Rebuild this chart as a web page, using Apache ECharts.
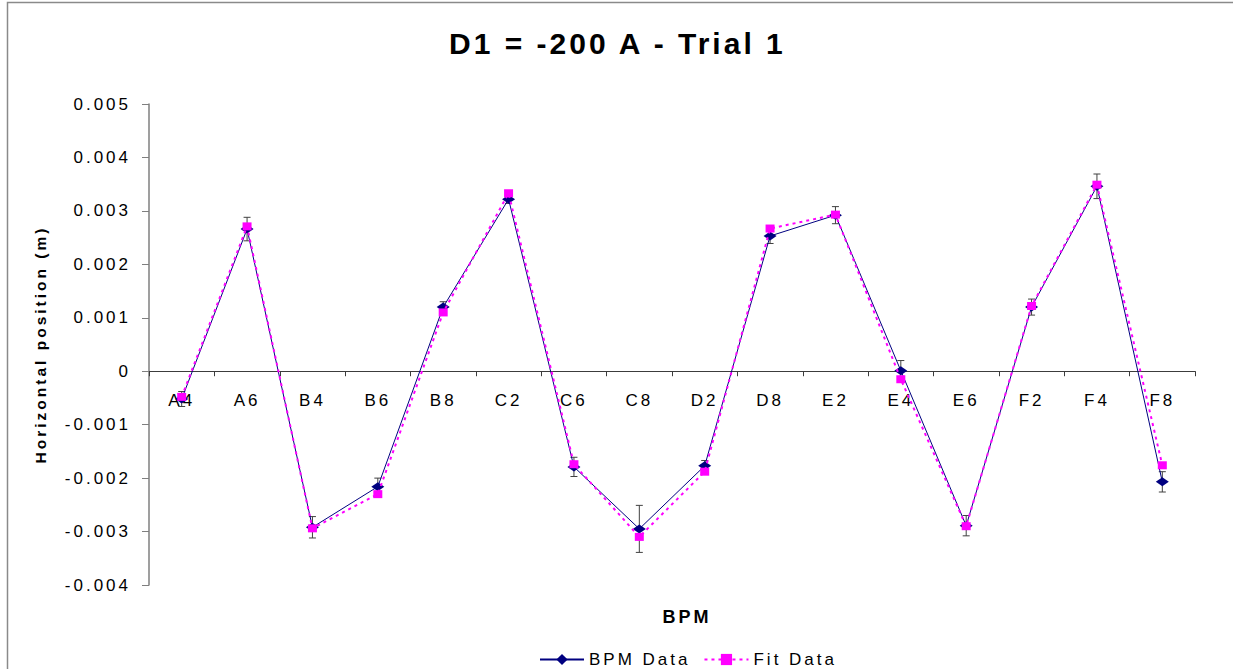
<!DOCTYPE html>
<html>
<head>
<meta charset="utf-8">
<script src="https://cdn.jsdelivr.net/npm/echarts@6/dist/echarts.min.js"></script>
<style>
  html, body { margin: 0; padding: 0; background: #ffffff; overflow: hidden; }
  #chart { width: 1233px; height: 669px; }
  /* wide, spaced lettering in the style of the spreadsheet chart */
  #chart text { letter-spacing: 3px; }
</style>
</head>
<body>
<div id="chart"></div>
<script>
// BPM names along the beam line
const categories = ['A4', 'A6', 'B4', 'B6', 'B8', 'C2', 'C6', 'C8', 'D2', 'D8', 'E2', 'E4', 'E6', 'F2', 'F4', 'F8'];

// measured horizontal position (m)
const bpmData = [-0.00052, 0.00266, -0.00292, -0.00216, 0.00120, 0.00322, -0.00179, -0.00295,
                 -0.00177, 0.00253, 0.00292, 0.00001, -0.00289, 0.00120, 0.00346, -0.00207];

// fitted horizontal position (m)
const fitData = [-0.00048, 0.00271, -0.00294, -0.00230, 0.00110, 0.00333, -0.00174, -0.00310,
                 -0.00188, 0.00267, 0.00293, -0.00015, -0.00290, 0.00122, 0.00349, -0.00176];

// +/- uncertainty of the measured positions (m)
const bpmError = [0.00014, 0.00022, 0.00020, 0.00016, 0.00010, 0.00008, 0.00018, 0.00044,
                  0.00010, 0.00014, 0.00016, 0.00019, 0.00019, 0.00015, 0.00023, 0.00019];

// value axis ticks
const yMin = -0.004;
const yMax = 0.005;
const yStep = 0.001;

const FONT = '"Liberation Sans", Arial, Helvetica, sans-serif';

const chart = echarts.init(document.getElementById('chart'), null, { renderer: 'svg' });

chart.setOption({
  animation: false,
  backgroundColor: '#ffffff',
  graphic: [{
    type: 'rect',
    silent: true,
    shape: { x: 7.5, y: 2.5, width: 3000, height: 3000 },
    style: { fill: 'none', stroke: '#8a8a8a', lineWidth: 1.5 }
  }],
  title: {
    text: 'D1 = -200 A - Trial 1',
    left: 449,
    top: 28,
    padding: 0,
    textStyle: { fontFamily: FONT, fontSize: 30, fontWeight: 'bold', color: '#000000' }
  },
  legend: {
    data: ['BPM Data', 'Fit Data'],
    left: 539,
    top: 651,
    padding: 0,
    itemWidth: 44,
    itemHeight: 14,
    itemGap: 37,
    textStyle: { fontFamily: FONT, fontSize: 17, color: '#000000' }
  },
  grid: { left: 149, right: 38, top: 104, bottom: 84, containLabel: false, outerBoundsMode: 'none' },
  xAxis: {
    type: 'category',
    data: categories,
    boundaryGap: true,
    position: 'bottom',
    offset: 0,
    name: 'BPM',
    nameLocation: 'middle',
    nameGap: 237,
    nameMoveOverlap: false,
    nameTextStyle: { fontFamily: FONT, fontSize: 18, fontWeight: 'bold', color: '#000000', padding: [0, 0, 0, 30] },
    axisLine: { onZero: false, lineStyle: { color: '#3c3c3c', width: 1 } },
    axisTick: { show: true, inside: false, length: 5, alignWithLabel: false, lineStyle: { color: '#3c3c3c', width: 1 } },
    axisLabel: { fontFamily: FONT, fontSize: 17, color: '#000000', margin: 21, interval: 0 },
    splitLine: { show: false }
  },
  yAxis: {
    type: 'value',
    min: yMin,
    max: yMax,
    interval: yStep,
    name: 'Horizontal position (m)',
    nameLocation: 'middle',
    nameGap: 101,
    nameTextStyle: { fontFamily: FONT, fontSize: 15.5, fontWeight: 'bold', color: '#000000' },
    axisLine: { show: true, onZero: false, lineStyle: { color: '#7f7f7f', width: 1.5 } },
    axisTick: { show: true, inside: false, length: 7, lineStyle: { color: '#7f7f7f', width: 1 } },
    axisLabel: {
      fontFamily: FONT, fontSize: 17, color: '#000000', margin: 18,
      formatter: v => (Math.abs(v) < 1e-12 ? '0' : v.toFixed(3))
    },
    splitLine: { show: false }
  },
  series: [
    {
      name: 'errorBars',
      type: 'custom',
      silent: true,
      z: 1,
      encode: { x: 0, y: 1 },
      data: categories.map((c, i) => [i, bpmData[i], bpmError[i]]),
      renderItem(params, api) {
        const i = api.value(0);
        const v = api.value(1);
        const e = api.value(2);
        const top = api.coord([i, v + e]);
        const bot = api.coord([i, v - e]);
        const hw = 3.5;
        const st = { stroke: '#404040', lineWidth: 1 };
        return {
          type: 'group',
          children: [
            { type: 'line', shape: { x1: top[0], y1: top[1], x2: bot[0], y2: bot[1] }, style: st },
            { type: 'line', shape: { x1: top[0] - hw, y1: top[1], x2: top[0] + hw, y2: top[1] }, style: st },
            { type: 'line', shape: { x1: bot[0] - hw, y1: bot[1], x2: bot[0] + hw, y2: bot[1] }, style: st }
          ]
        };
      }
    },
    {
      name: 'BPM Data',
      type: 'line',
      z: 2,
      data: bpmData,
      symbol: 'diamond',
      symbolSize: [13, 9],
      showAllSymbol: true,
      itemStyle: { color: '#000080' },
      lineStyle: { color: '#000080', width: 1 }
    },
    {
      name: 'Fit Data',
      type: 'line',
      z: 3,
      data: fitData,
      symbol: 'rect',
      symbolSize: [9, 8],
      showAllSymbol: true,
      itemStyle: { color: '#ff00ff' },
      lineStyle: { color: '#ff00ff', width: 2, type: [3, 4] }
    }
  ]
});

// lift the category axis (line, ticks, labels and name) up to the zero line of the value scale
const zeroY = chart.convertToPixel({ yAxisIndex: 0 }, 0);
const floorY = chart.convertToPixel({ yAxisIndex: 0 }, yMin);
chart.setOption({ xAxis: { offset: zeroY - floorY } });
</script>
</body>
</html>
